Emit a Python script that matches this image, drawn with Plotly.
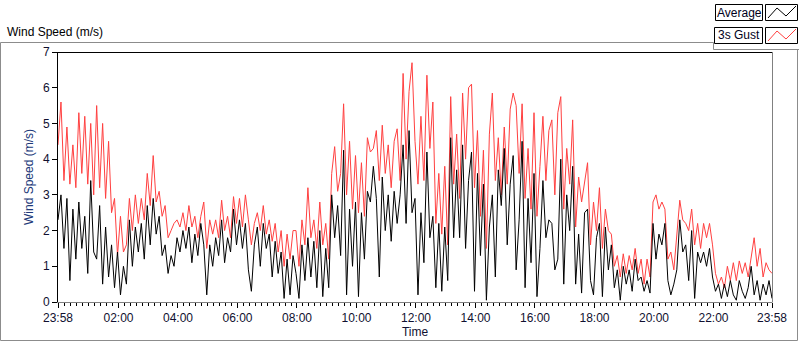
import pandas as pd
import plotly.graph_objects as go

# ---- data (6-minute steps from 23:58 to 23:58) ----
start_time = "2000-01-01 23:58"
step_minutes = 6

gust = [
    4.4, 5.6, 3.4, 4.9, 3.3, 4.4, 3.2, 5.3, 3.6, 5.2,
    3.3, 5.0, 3.0, 5.5, 3.2, 5.0, 2.9, 4.5, 2.5, 2.9,
    1.3, 2.4, 1.4, 1.6, 2.9, 2.0, 3.0, 2.2, 2.9, 2.3,
    3.6, 2.7, 4.1, 2.8, 3.1, 2.4, 2.7, 1.8, 2.0, 2.2,
    2.3, 2.1, 2.5, 2.0, 2.7, 2.1, 2.4, 1.8, 2.4, 2.8,
    1.5, 2.3, 1.9, 2.3, 1.8, 2.85, 2.0, 2.4, 1.8, 2.95,
    2.2, 2.9, 2.1, 3.0, 2.3, 1.6, 2.2, 2.5, 2.0, 2.7,
    1.9, 2.3, 1.7, 2.2, 1.4, 2.0, 1.0, 1.9, 1.2, 2.0,
    2.0, 1.0, 2.3, 1.6, 3.2, 1.8, 2.3, 1.5, 2.8, 1.6,
    2.2, 1.2, 3.6, 4.35, 3.1, 3.6, 5.55, 3.0, 4.5, 2.6,
    4.1, 2.5, 3.9, 2.4, 4.6, 4.2, 4.3, 4.8, 3.4, 4.95,
    3.6, 4.4, 3.2, 4.5, 4.85, 3.4, 6.4, 4.0, 5.9, 6.7,
    4.5, 3.3, 5.2, 3.4, 6.35, 4.3, 5.6, 2.2, 3.6, 1.9,
    3.8, 1.6, 5.75, 3.3, 4.7, 2.9, 5.85, 4.0, 6.0, 6.1,
    3.2, 4.8, 2.4, 4.25, 1.5, 4.7, 5.85, 3.4, 4.6, 3.0,
    4.9, 3.3, 5.4, 5.85, 5.5, 3.6, 5.55, 2.9, 4.3, 2.6,
    5.3, 2.4, 3.8, 5.2, 3.4, 4.8, 5.1, 3.0, 5.3, 5.75,
    2.6, 4.3, 3.3, 5.1, 2.1, 3.5, 2.8, 3.3, 3.9, 1.6,
    2.8, 2.0, 3.2, 1.5, 2.6, 2.0, 1.9, 1.0, 1.3, 0.7,
    1.35, 0.8, 1.3, 0.9, 1.5, 0.8, 1.2, 0.5, 1.2, 0.7,
    2.8, 3.0, 2.6, 2.8, 2.6, 1.2, 1.4, 0.9, 1.8, 2.85,
    2.3, 2.2, 2.0, 2.6, 1.6, 2.2, 1.5, 2.2, 1.8, 2.2,
    1.6, 0.8, 0.5, 0.7, 0.4, 1.0, 0.6, 1.1, 0.6, 1.15,
    0.8, 1.1, 0.7, 1.3, 1.8, 1.0, 1.5, 0.7, 1.1, 0.9,
    0.8,
]

average = [
    2.3, 3.0, 1.5, 2.9, 0.6, 2.6, 1.2, 2.8, 1.5, 2.4,
    0.8, 3.4, 1.4, 1.2, 2.7, 0.5, 2.1, 0.7, 1.6, 0.4,
    1.4, 0.2, 1.0, 0.5, 2.3, 1.0, 2.1, 1.4, 2.2, 1.2,
    2.7, 1.6, 2.9, 1.9, 2.4, 1.3, 1.6, 0.8, 1.3, 1.0,
    1.8, 1.4, 2.0, 1.5, 2.1, 1.1, 1.9, 1.3, 2.2, 1.6,
    0.2, 1.6, 1.0, 1.8, 1.3, 2.3, 1.1, 1.8, 1.4, 2.6,
    1.6, 2.3, 1.5, 2.2, 0.9, 0.3, 1.6, 2.1, 1.0, 2.2,
    1.5, 1.9, 0.7, 1.7, 0.8, 1.4, 0.1, 1.2, 0.2, 1.3,
    0.8, 0.1, 1.6, 0.6, 1.8, 0.7, 1.7, 0.4, 2.0, 0.15,
    1.5, 0.4, 3.0, 1.8, 2.7, 1.3, 4.25, 0.2, 2.6, 1.0,
    2.8, 0.15, 2.5, 1.2, 3.1, 2.8, 3.8, 2.9, 0.7, 3.5,
    2.0, 3.0, 1.7, 3.1, 2.2, 3.0, 4.4, 2.2, 4.8, 2.5,
    2.9, 0.2, 2.5, 1.1, 4.2, 1.8, 2.4, 0.4, 2.2, 0.3,
    2.1, 0.6, 4.6, 1.8, 3.7, 1.8, 4.4, 1.5, 3.4, 4.2,
    0.3, 3.6, 1.3, 3.3, 0.05, 2.1, 3.0, 0.7, 3.7, 2.7,
    4.3, 1.6, 3.3, 4.1, 0.9, 2.3, 4.5, 0.4, 2.9, 1.1,
    3.6, 0.15, 1.5, 3.4, 1.8, 2.3, 2.2, 0.9, 1.2, 4.0,
    0.5, 3.0, 2.0, 3.8, 0.5, 1.9, 0.25, 2.5, 2.6, 0.6,
    0.2, 1.8, 2.2, 0.15, 2.1, 0.9, 1.6, 0.4, 0.9, 0.05,
    1.0, 0.5, 0.9, 0.3, 1.2, 0.6, 0.7, 0.3, 0.6, 0.25,
    2.2, 1.2, 1.9, 1.6, 2.2, 0.6, 0.2, 0.5, 0.9, 2.3,
    1.4, 1.6, 0.6, 2.0, 0.1, 1.4, 1.1, 1.4, 1.0, 1.5,
    0.7, 0.3, 0.5, 0.1, 0.5, 0.15, 0.6, 0.2, 0.05, 0.6,
    0.3, 0.1, 0.4, 1.0, 0.2, 0.6, 0.05, 0.5, 0.2, 0.6,
    0.1,
]

x_tick_times = ["2000-01-01 23:58", "2000-01-02 02:00", "2000-01-02 04:00",
                "2000-01-02 06:00", "2000-01-02 08:00", "2000-01-02 10:00",
                "2000-01-02 12:00", "2000-01-02 14:00", "2000-01-02 16:00",
                "2000-01-02 18:00", "2000-01-02 20:00", "2000-01-02 22:00",
                "2000-01-02 23:58"]
x_tick_labels = ["23:58", "02:00", "04:00", "06:00", "08:00", "10:00", "12:00",
                 "14:00", "16:00", "18:00", "20:00", "22:00", "23:58"]
y_ticks = [0, 1, 2, 3, 4, 5, 6, 7]

times = pd.date_range(start=start_time, periods=len(gust), freq=f"{step_minutes}min")

# ---- geometry (pixels) ----
W, H = 800, 342
L, R, T, B = 58, 28, 52, 40
PW, PH = W - L - R, H - T - B


def px(x):
    return (x - L) / PW


def py(y):
    return (H - B - y) / PH


FONT = "Liberation Sans"

fig = go.Figure()
fig.add_trace(go.Scatter(x=times, y=gust, mode="lines", name="3s Gust",
                         line=dict(color="#ff4040", width=1)))
fig.add_trace(go.Scatter(x=times, y=average, mode="lines", name="Average",
                         line=dict(color="#000000", width=1)))

shapes = []


def line(x0, y0, x1, y1, color, width=1):
    shapes.append(dict(type="line", xref="paper", yref="paper",
                       x0=px(x0), y0=py(y0), x1=px(x1), y1=py(y1),
                       line=dict(color=color, width=width)))


# outer gray frame
line(0.5, 42.5, 713.5, 42.5, "#8c8c8c")
line(713.5, 42.5, 713.5, 49.5, "#8c8c8c")
line(713.5, 49.5, 799, 49.5, "#8c8c8c")
line(797.5, 49.5, 797.5, 340.5, "#8c8c8c")
line(0.5, 340.5, 797.5, 340.5, "#8c8c8c")
line(0.5, 42.5, 0.5, 340.5, "#8c8c8c")

# plot area frame
line(58, 52.5, 772.5, 52.5, "#000000")
line(772.5, 52.5, 772.5, 302.5, "#808080")

# legend boxes
for (bx0, by0, bx1, by1) in [(715.5, 4.5, 762.5, 20.5), (765.5, 4.5, 797.5, 20.5),
                             (714.5, 27.5, 762.5, 43.5), (765.5, 27.5, 797.5, 43.5)]:
    shapes.append(dict(type="rect", xref="paper", yref="paper",
                       x0=px(bx0), y0=py(by0), x1=px(bx1), y1=py(by1),
                       line=dict(color="#000000", width=1), fillcolor="white"))


def zigzag(y_off, color):
    pts = [(768, 18), (777, 8), (786, 16), (796, 6)]
    path = "M " + " L ".join(f"{px(a)},{py(b + y_off)}" for a, b in pts)
    shapes.append(dict(type="path", xref="paper", yref="paper", path=path,
                       line=dict(color=color, width=1)))


zigzag(0, "#000000")
zigzag(23, "#ff4040")

annotations = [
    dict(text="Wind Speed (m/s)", xref="paper", yref="paper", x=px(5), y=py(32),
         xanchor="left", yanchor="middle", showarrow=False,
         font=dict(family=FONT, size=12, color="#000000")),
    dict(text="Average", xref="paper", yref="paper", x=px(739), y=py(12.5),
         xanchor="center", yanchor="middle", showarrow=False,
         font=dict(family=FONT, size=12, color="#000020")),
    dict(text="3s Gust", xref="paper", yref="paper", x=px(738.5), y=py(35.5),
         xanchor="center", yanchor="middle", showarrow=False,
         font=dict(family=FONT, size=12, color="#000020")),
]

fig.update_layout(
    width=W, height=H,
    margin=dict(l=L, r=R, t=T, b=B, autoexpand=False),
    paper_bgcolor="white", plot_bgcolor="white",
    showlegend=False,
    font=dict(family=FONT, size=12, color="#101030"),
    shapes=shapes, annotations=annotations,
)

fig.update_xaxes(
    range=[times[0], times[-1]],
    tickmode="array", tickvals=x_tick_times, ticktext=x_tick_labels,
    ticks="outside", ticklen=5, tickwidth=1, tickcolor="#000000",
    showline=True, linecolor="#808080", linewidth=1,
    showgrid=False, zeroline=False, automargin=False,
    tickfont=dict(family=FONT, size=12, color="#101030"),
    minor=dict(ticks="outside", ticklen=3, tickcolor="#000000",
               dtick=12 * 60 * 1000, tick0="2000-01-02 00:00", showgrid=False),
    title=dict(text="Time", standoff=0, font=dict(family=FONT, size=12, color="#101030")),
)

fig.update_yaxes(
    range=[0, 7], tickmode="array", tickvals=y_ticks,
    ticks="outside", ticklen=5, tickwidth=1, tickcolor="#000000",
    showline=True, linecolor="#000000", linewidth=1,
    showgrid=False, zeroline=False, automargin=False,
    tickfont=dict(family=FONT, size=12, color="#101030"),
    title=dict(text="Wind Speed (m/s)", standoff=6,
               font=dict(family=FONT, size=12, color="#203878")),
)

fig.write_html("out.html", config={"displayModeBar": False},
               post_script="document.body.style.margin='0';document.body.style.overflow='hidden';")
